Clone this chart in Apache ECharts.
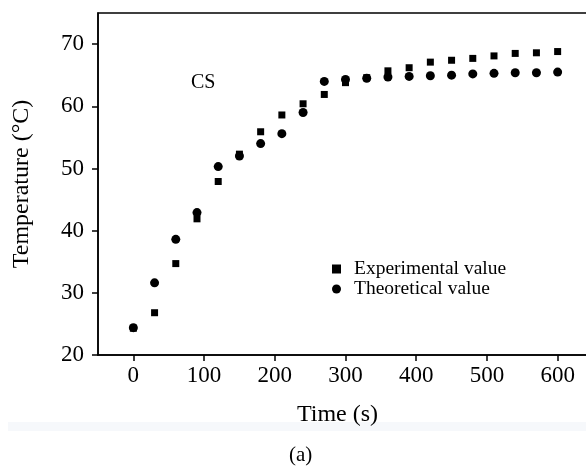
<!DOCTYPE html>
<html><head><meta charset="utf-8">
<script src="https://cdn.jsdelivr.net/npm/echarts@6/dist/echarts.min.js"></script>
<style>html,body{margin:0;padding:0;background:#fff}#c{width:586px;height:470px}</style>
</head><body><div id="c"></div>
<script>
const times = [0,30,60,90,120,150,180,210,240,270,300,330,360,390,420,450,480,510,540,570,600];
const experimental = [24.3,26.8,34.7,41.9,47.9,52.3,55.9,58.6,60.4,61.9,63.8,64.6,65.7,66.2,67.1,67.4,67.7,68.1,68.5,68.6,68.8];
const theoretical = [24.4,31.6,38.6,42.9,50.3,52.0,54.0,55.6,59.0,64.0,64.3,64.5,64.7,64.8,64.9,65.0,65.2,65.3,65.4,65.4,65.5];
const xTicks = [0,100,200,300,400,500,600];
const yTicks = [20,30,40,50,60,70];

const serif = '"Liberation Serif","DejaVu Serif",serif';
const chart = echarts.init(document.getElementById('c'), null, {renderer:'canvas'});
chart.setOption({
  animation:false,
  backgroundColor:'#fff',
  grid:{left:98,top:13,width:495,height:342,show:true,borderColor:'#000',borderWidth:1.5,
        containLabel:false,outerBoundsMode:'none'},
  xAxis:{type:'value',min:-50,max:650,
    name:'Time (s)',nameLocation:'middle',nameGap:48,
    nameTextStyle:{fontFamily:serif,fontSize:24,color:'#000',padding:[0,16,0,0]},
    axisLine:{onZero:false,lineStyle:{color:'#000',width:1.5}},
    axisTick:{show:true,length:6,customValues:xTicks,lineStyle:{color:'#000',width:1.5}},
    axisLabel:{customValues:xTicks,fontFamily:serif,fontSize:23,color:'#000',margin:9},
    splitLine:{show:false}},
  yAxis:{type:'value',min:20,max:75,
    name:'Temperature (°C)',nameLocation:'middle',nameGap:64,nameRotate:90,
    nameTextStyle:{fontFamily:serif,fontSize:24,color:'#000'},
    axisLine:{onZero:false,lineStyle:{color:'#000',width:1.5}},
    axisTick:{show:true,length:6,customValues:yTicks,lineStyle:{color:'#000',width:1.5}},
    axisLabel:{customValues:yTicks,fontFamily:serif,fontSize:23,color:'#000',margin:14},
    splitLine:{show:false}},
  legend:{orient:'vertical',left:327,top:254,itemWidth:9,itemHeight:9,itemGap:0,
    textStyle:{fontFamily:serif,fontSize:19.5,color:'#000',padding:[0,0,0,8]},
    data:[{name:'Experimental value',icon:'rect',itemStyle:{opacity:1}},{name:'Theoretical value',icon:'circle',itemStyle:{opacity:1}}]},
  series:[
    {name:'Experimental value',type:'scatter',symbol:'rect',symbolSize:7,
     itemStyle:{color:'#000',opacity:1},data:times.map((t,i)=>[t,experimental[i]])},
    {name:'Theoretical value',type:'scatter',symbol:'circle',symbolSize:9,
     itemStyle:{color:'#000',opacity:1},data:times.map((t,i)=>[t,theoretical[i]])}
  ],
  graphic:[
    {type:'text',left:191,top:73,style:{text:'CS',font:'20px '+serif,fill:'#000'}},
    {type:'rect',shape:{x:8,y:422,width:578,height:9},style:{fill:'#f6f8fb'},z:-1},
    {type:'text',left:289,top:445,style:{text:'(a)',font:'21px '+serif,fill:'#000'}}
  ]
});
</script></body></html>
